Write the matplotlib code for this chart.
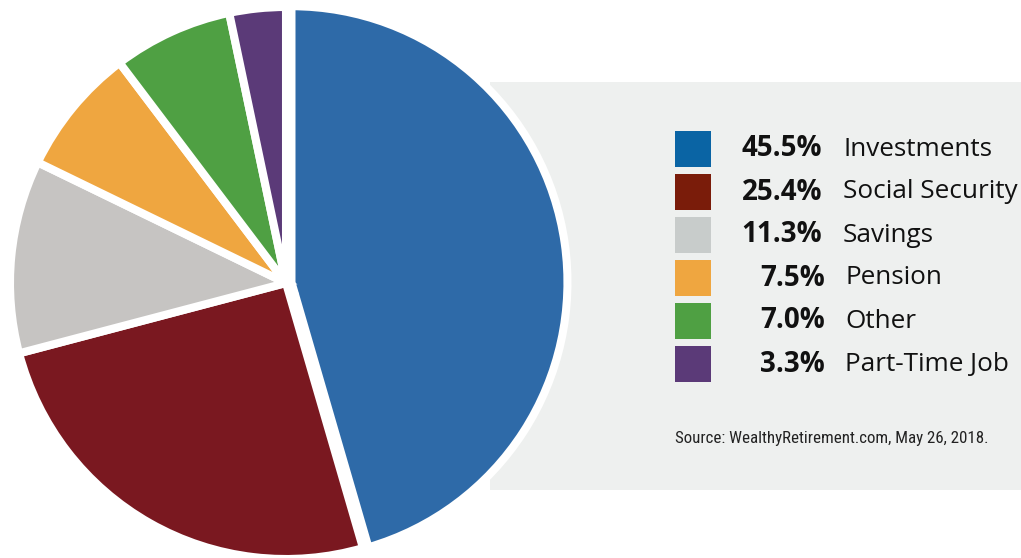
import matplotlib
matplotlib.use("Agg")
import matplotlib.pyplot as plt
from matplotlib import font_manager as fm
from matplotlib.patches import Rectangle

categories = ["Investments", "Social Security", "Savings", "Pension", "Other", "Part-Time Job"]
values = [45.5, 25.4, 11.3, 7.5, 7.0, 3.3]
pct_labels = ["45.5%", "25.4%", "11.3%", "7.5%", "7.0%", "3.3%"]
pie_colors = ["#2e6aa8", "#7a1820", "#c6c4c2", "#efa640", "#4fa043", "#5b3a78"]
legend_colors = ["#0a64a4", "#7a1c0a", "#c8cccb", "#efa640", "#4fa043", "#5b3a78"]
explode = [0.02, 0, 0, 0, 0, 0]
source_text = "Source: WealthyRetirement.com, May 26, 2018."

names = {f.name for f in fm.fontManager.ttflist}
main_font = "Open Sans" if "Open Sans" in names else "DejaVu Sans"
cond_font = None
for cand in ["Liberation Sans Narrow", "DejaVu Sans Condensed", "Roboto Condensed", "Open Sans Condensed"]:
    if cand in names:
        cond_font = cand
        break
if cond_font is None:
    cond_font = "Roboto"

W, H = 1021, 558
fig = plt.figure(figsize=(W / 100, H / 100), dpi=100)
ax = fig.add_axes([0, 0, 1, 1])
ax.set_xlim(0, W)
ax.set_ylim(H, 0)
ax.axis("off")

# background panel
ax.add_patch(Rectangle((490, 82), W - 490, 408, facecolor="#eef0ef", edgecolor="none", zorder=0))

# pie in a separate axes with equal aspect, placed in pixel coordinates
cx, cy, r = 286, 283, 276
pad = 10
pax = fig.add_axes([(cx - r - pad) / W, 1 - (cy + r + pad) / H, (2 * r + 2 * pad) / W, (2 * r + 2 * pad) / H])
pax.pie(values, colors=pie_colors, startangle=90, counterclock=False, explode=explode,
        radius=1.0, wedgeprops=dict(edgecolor="white", linewidth=5.8))
pax.set_xlim(-(r + pad) / r, (r + pad) / r)
pax.set_ylim(-(r + pad) / r, (r + pad) / r)
pax.set_aspect("equal")
pax.axis("off")

# legend
y0, dy = 149, 43
for i, (cat, pct, col) in enumerate(zip(categories, pct_labels, legend_colors)):
    y = y0 + i * dy
    ax.add_patch(Rectangle((675, y - 18), 36, 36, facecolor=col, edgecolor="none", zorder=2))
    single = len(pct) == 4
    xr = 825 if single else 822
    xl = 845 if single else 843
    ax.text(xr, y, pct, ha="right", va="center", fontsize=20, fontweight="bold",
            family=main_font, color="#111111", zorder=3)
    ax.text(xl, y, cat, ha="left", va="center", fontsize=18.8, family=main_font,
            color="#111111", zorder=3)

ax.text(675, 438, source_text, ha="left", va="center", fontsize=12.2, family=cond_font,
        color="#222222", zorder=3)

fig.savefig("out.png", dpi=100)
